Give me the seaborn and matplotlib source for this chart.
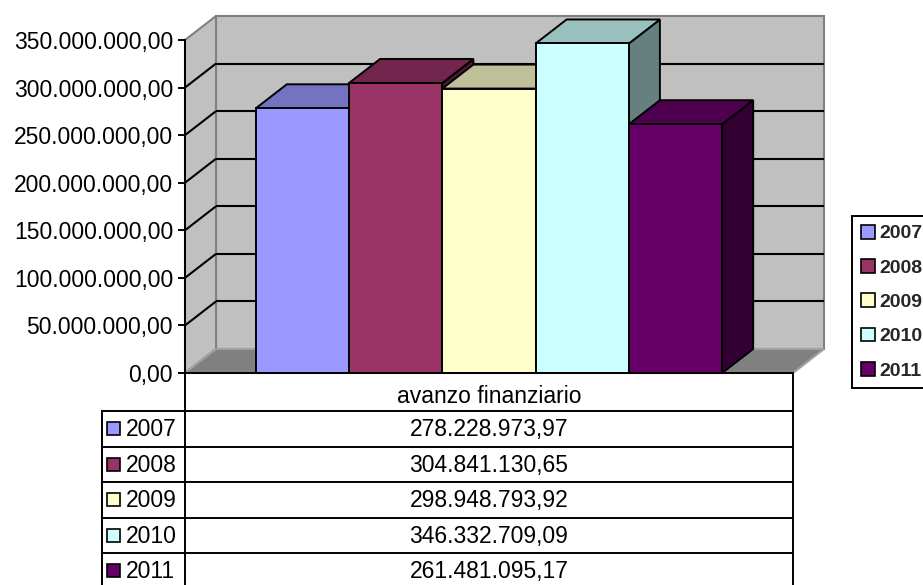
import numpy as np
import pandas as pd
import matplotlib
matplotlib.use("Agg")
import matplotlib.pyplot as plt
from matplotlib.patches import Polygon, Rectangle, Patch
from matplotlib.ticker import FuncFormatter, MultipleLocator
import matplotlib.colors as mcolors
import seaborn as sns

# ---- data -------------------------------------------------------------
categoria = "avanzo finanziario"
anni = ["2007", "2008", "2009", "2010", "2011"]
valori = [278228973.97, 304841130.65, 298948793.92, 346332709.09, 261481095.17]
colori = ["#9999FF", "#993366", "#FFFFCC", "#CCFFFF", "#660066"]
y_max = 350e6
y_passo = 50e6


def formato_it(v):
    s = f"{v:,.2f}"
    return s.replace(",", "X").replace(".", ",").replace("X", ".")


def scurisci(c, f):
    r, g, b = mcolors.to_rgb(c)
    return (r * f, g * f, b * f)


sns.set_theme(style="white")
plt.rcParams["font.family"] = ["Liberation Sans", "DejaVu Sans"]

W, H, DPI = 923, 585, 100
fig = plt.figure(figsize=(W / DPI, H / DPI), dpi=DPI)
fig.patch.set_facecolor("white")

# front plane of the 3D plot area (pixels)
x_sx, x_dx = 185, 793
y_zero, y_cima = 373, 40
DX, DY = 31, 24  # depth offset of the box, pixels
FS = 16.5

ax = fig.add_axes([x_sx / W, 1 - y_zero / H, (x_dx - x_sx) / W, (y_zero - y_cima) / H])
ax.patch.set_alpha(0)

df = pd.DataFrame({"categoria": [categoria] * len(anni), "anno": anni, "valore": valori})
sns.barplot(data=df, x="categoria", y="valore", hue="anno", hue_order=anni,
            palette=colori, saturation=1, width=0.767, edgecolor="black",
            linewidth=1.4, legend=False, errorbar=None, ax=ax)

ax.set_xlim(-0.5, 0.5)
ax.set_ylim(0, y_max)
ax.set_xlabel("")
ax.set_ylabel("")


def sposta(pts):
    """Push data points to the back of the box (oblique projection)."""
    pts = np.asarray(pts, float)
    disp = ax.transData.transform(pts) + np.array([DX, DY])
    return ax.transData.inverted().transform(disp)


def poligono(pts, **kw):
    p = Polygon(np.asarray(pts), closed=True, clip_on=False, joinstyle="miter", **kw)
    ax.add_patch(p)
    return p


# walls and floor
poligono(sposta([(-0.5, 0), (0.5, 0), (0.5, y_max), (-0.5, y_max)]),
         facecolor="#C0C0C0", edgecolor="#808080", linewidth=1.5, zorder=0.2)
poligono(np.vstack([[(-0.5, 0), (-0.5, y_max)], sposta([(-0.5, y_max), (-0.5, 0)])]),
         facecolor="#C0C0C0", edgecolor="#808080", linewidth=1.5, zorder=0.25)
poligono(np.vstack([[(-0.5, 0), (0.5, 0)], sposta([(0.5, 0), (-0.5, 0)])]),
         facecolor="#808080", edgecolor="#A0A0A0", linewidth=1.5, zorder=0.3)

# gridlines on back and side wall
for t in np.arange(y_passo, y_max, y_passo):
    b = sposta([(-0.5, t), (0.5, t)])
    ax.plot(b[:, 0], b[:, 1], color="black", lw=1.5, zorder=0.4, clip_on=False,
            solid_capstyle="butt")
    s = np.vstack([[(-0.5, t)], sposta([(-0.5, t)])])
    ax.plot(s[:, 0], s[:, 1], color="black", lw=1.5, zorder=0.4, clip_on=False,
            solid_capstyle="butt")

# 3D faces of every bar, drawn left to right
for i, cont in enumerate(ax.containers):
    bar = cont.patches[0]
    x0 = bar.get_x()
    x1 = x0 + bar.get_width()
    h = bar.get_height()
    base = colori[i]
    z = 2 + 3 * i
    poligono(np.vstack([[(x1, 0), (x1, h)], sposta([(x1, h), (x1, 0)])]),
             facecolor=scurisci(base, 0.5), edgecolor="black", linewidth=1.4, zorder=z)
    poligono(np.vstack([[(x0, h), (x1, h)], sposta([(x1, h), (x0, h)])]),
             facecolor=scurisci(base, 0.75), edgecolor="black", linewidth=1.4, zorder=z + 1)
    bar.set_zorder(z + 2)
    bar.set_clip_on(False)

# axes styling
for side in ("top", "right"):
    ax.spines[side].set_visible(False)
for side in ("left", "bottom"):
    ax.spines[side].set_color("black")
    ax.spines[side].set_linewidth(1.4)
    ax.spines[side].set_zorder(30)
ax.yaxis.set_major_locator(MultipleLocator(y_passo))
ax.yaxis.set_major_formatter(FuncFormatter(lambda v, p: formato_it(v)))
ax.tick_params(axis="y", direction="out", length=5, width=1.4, colors="black",
               labelsize=FS, pad=3.6, left=True)
ax.tick_params(axis="x", length=0, labelsize=FS, pad=8.5, colors="black")

# data table below the plot
tab = fig.add_axes([0, 0, 1, 1], zorder=-1)
tab.set_xlim(0, W)
tab.set_ylim(H, 0)
tab.axis("off")

x_tab = 102
riga0, riga_h = 411, 35.5
n = len(anni)
lw_t = 1.4
tab.plot([x_sx, x_sx], [y_zero, H + 10], color="black", lw=lw_t, clip_on=False)
tab.plot([x_dx, x_dx], [y_zero, H + 10], color="black", lw=lw_t, clip_on=False)
tab.plot([x_tab, x_tab], [riga0, H + 10], color="black", lw=lw_t, clip_on=False)
for k in range(n + 1):
    y = riga0 + k * riga_h
    tab.plot([x_tab, x_dx], [y, y], color="black", lw=lw_t, clip_on=False,
             solid_capstyle="projecting")

for k, (anno, v, c) in enumerate(zip(anni, valori, colori)):
    yc = riga0 + (k + 0.5) * riga_h
    tab.add_patch(Rectangle((107, yc - 6.5), 13, 13, facecolor=c, edgecolor="black",
                            linewidth=1.2))
    tab.text(126, yc + 1, anno, ha="left", va="center", fontsize=FS, color="black")
    tab.text((x_sx + x_dx) / 2, yc + 1, formato_it(v), ha="center", va="center",
             fontsize=FS, color="black")

# legend on the right
maniglie = [Patch(facecolor=c, edgecolor="black", linewidth=1.2) for c in colori]
leg = fig.legend(maniglie, anni, loc="upper left", bbox_to_anchor=(852 / W, 1 - 216 / H),
                 frameon=True, fancybox=False, framealpha=1, edgecolor="black",
                 prop={"weight": "bold", "size": 14}, handlelength=0.72,
                 handleheight=0.72, handletextpad=0.22, labelspacing=0.85,
                 borderpad=0.45, borderaxespad=0)
leg.get_frame().set_linewidth(1.4)

fig.savefig("out.png", dpi=DPI, facecolor="white")
